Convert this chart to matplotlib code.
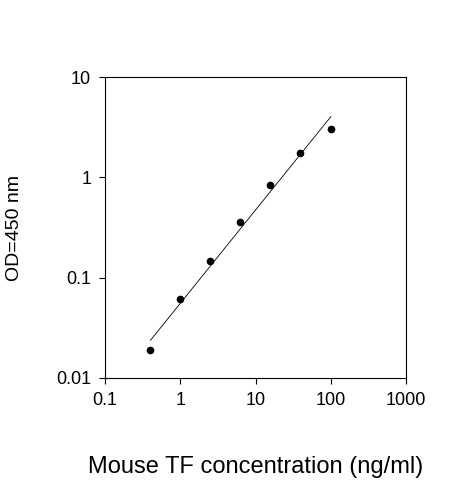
import matplotlib
matplotlib.use("Agg")
import matplotlib.pyplot as plt
import numpy as np
from matplotlib.ticker import FixedLocator, NullLocator

plt.rcParams['font.family'] = ['Liberation Sans', 'DejaVu Sans']

conc = [0.4, 1, 2.5, 6.25, 15.6, 39, 100]
od = [0.019, 0.062, 0.148, 0.355, 0.84, 1.75, 3.0]
fit_a = 0.0556   # OD at 1 ng/ml
fit_b = 0.93     # slope on log-log

xticks = [0.1, 1, 10, 100, 1000]
xlabels = ["0.1", "1", "10", "100", "1000"]
yticks = [0.01, 0.1, 1, 10]
ylabels = ["0.01", "0.1", "1", "10"]

fig = plt.figure(figsize=(4.63, 4.8), dpi=100)
ax = fig.add_axes([0.227, 0.2125, 0.65, 0.627])
ax.set_xscale("log"); ax.set_yscale("log")
ax.set_xlim(0.1, 1000); ax.set_ylim(0.01, 10)
xf = np.array([conc[0], conc[-1]])
ax.plot(xf, fit_a * xf ** fit_b, color="black", lw=0.6)
ax.plot(conc, od, "o", color="black", ms=4.5)
ax.xaxis.set_major_locator(FixedLocator(xticks)); ax.set_xticklabels(xlabels)
ax.yaxis.set_major_locator(FixedLocator(yticks)); ax.set_yticklabels(ylabels)
ax.xaxis.set_minor_locator(NullLocator()); ax.yaxis.set_minor_locator(NullLocator())
ax.tick_params(labelsize=13, length=4, width=0.8, pad=6)
for s in ax.spines.values():
    s.set_linewidth(0.8)
ax.set_xlabel("Mouse TF concentration (ng/ml)", fontsize=17, labelpad=34)
ax.set_ylabel("OD=450 nm", fontsize=14, labelpad=24)
fig.savefig("out.png", dpi=100)
